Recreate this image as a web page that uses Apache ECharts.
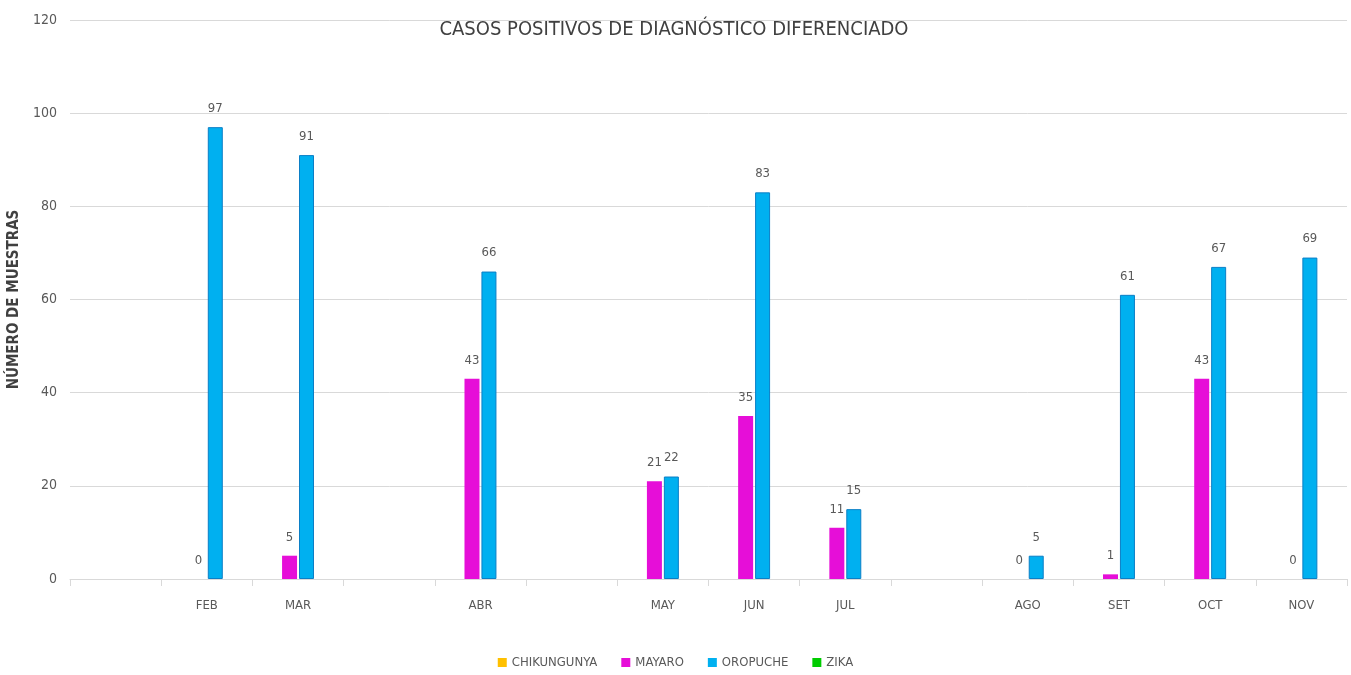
<!DOCTYPE html>
<html>
<head>
<meta charset="utf-8">
<script src="https://cdn.jsdelivr.net/npm/echarts@6/dist/echarts.min.js"></script>
<style>
  html, body { margin: 0; padding: 0; background: #fff; }
  #chart { width: 1351px; height: 675px; }
</style>
</head>
<body>
<div id="chart"></div>
<script>
// meses (las categorías vacías dejan el hueco como en el original)
var months = ['', 'FEB', 'MAR', '', 'ABR', '', 'MAY', 'JUN', 'JUL', '', 'AGO', 'SET', 'OCT', 'NOV'];
var chikungunya = [null, null, null, null, null, null, null, null, null, null, null, null, null, null];
var mayaro = [null, 0, 5, null, 43, null, 21, 35, 11, null, 0, 1, 43, 0];
var oropuche = [null, 97, 91, null, 66, null, 22, 83, 15, null, 5, 61, 67, 69];
var zika = [null, null, null, null, null, null, null, null, null, null, null, null, null, null];
var yTicks = [0, 20, 40, 60, 80, 100, 120];

var font = '"Liberation Sans Narrow", "DejaVu Sans Condensed", sans-serif';
var txt = '#595959';

var chart = echarts.init(document.getElementById('chart'));

function barSeries(name, data, color, border) {
  return {
    name: name,
    type: 'bar',
    data: data,
    barWidth: 15,
    barGap: '13%',
    itemStyle: {
      color: color,
      borderColor: border,
      borderWidth: border ? 1 : 0
    },
    label: {
      show: true,
      position: 'top',
      distance: 12,
      color: txt,
      fontFamily: font,
      fontSize: 13
    }
  };
}

var option = {
  backgroundColor: '#fff',
  animation: false,
  title: {
    text: 'CASOS POSITIVOS DE DIAGNÓSTICO DIFERENCIADO',
    left: 669,
    textAlign: 'center',
    top: 15,
    textStyle: { fontFamily: font, fontSize: 20, fontWeight: 'normal', color: '#404040' }
  },
  legend: {
    bottom: 1,
    left: 'center',
    itemWidth: 9,
    itemHeight: 9,
    itemGap: 24,
    icon: 'rect',
    itemStyle: { borderWidth: 0 },
    textStyle: { fontFamily: font, fontSize: 13, color: txt },
    data: ['CHIKUNGUNYA', 'MAYARO', 'OROPUCHE', 'ZIKA']
  },
  grid: { left: 70, right: 4, top: 20, bottom: 96, outerBoundsMode: 'none' },
  xAxis: {
    type: 'category',
    data: months,
    axisLine: { lineStyle: { color: '#d9d9d9' } },
    axisTick: { show: true, length: 7, lineStyle: { color: '#d9d9d9' } },
    axisLabel: { color: txt, fontFamily: font, fontSize: 13, margin: 20, interval: 0 }
  },
  yAxis: {
    type: 'value',
    min: yTicks[0],
    max: yTicks[yTicks.length - 1],
    interval: 20,
    name: 'NÚMERO DE MUESTRAS',
    nameLocation: 'middle',
    nameGap: 46,
    nameTextStyle: { fontFamily: font, fontSize: 15, fontWeight: 'bold', color: '#404040' },
    axisLabel: { color: txt, fontFamily: font, fontSize: 14, margin: 13 },
    splitLine: { lineStyle: { color: '#d9d9d9' } }
  },
  series: [
    barSeries('CHIKUNGUNYA', chikungunya, '#FFC000'),
    barSeries('MAYARO', mayaro, '#E60ED8'),
    barSeries('OROPUCHE', oropuche, '#00B0F0', '#0B7FC6'),
    barSeries('ZIKA', zika, '#00CC00')
  ]
};

chart.setOption(option);
</script>
</body>
</html>
